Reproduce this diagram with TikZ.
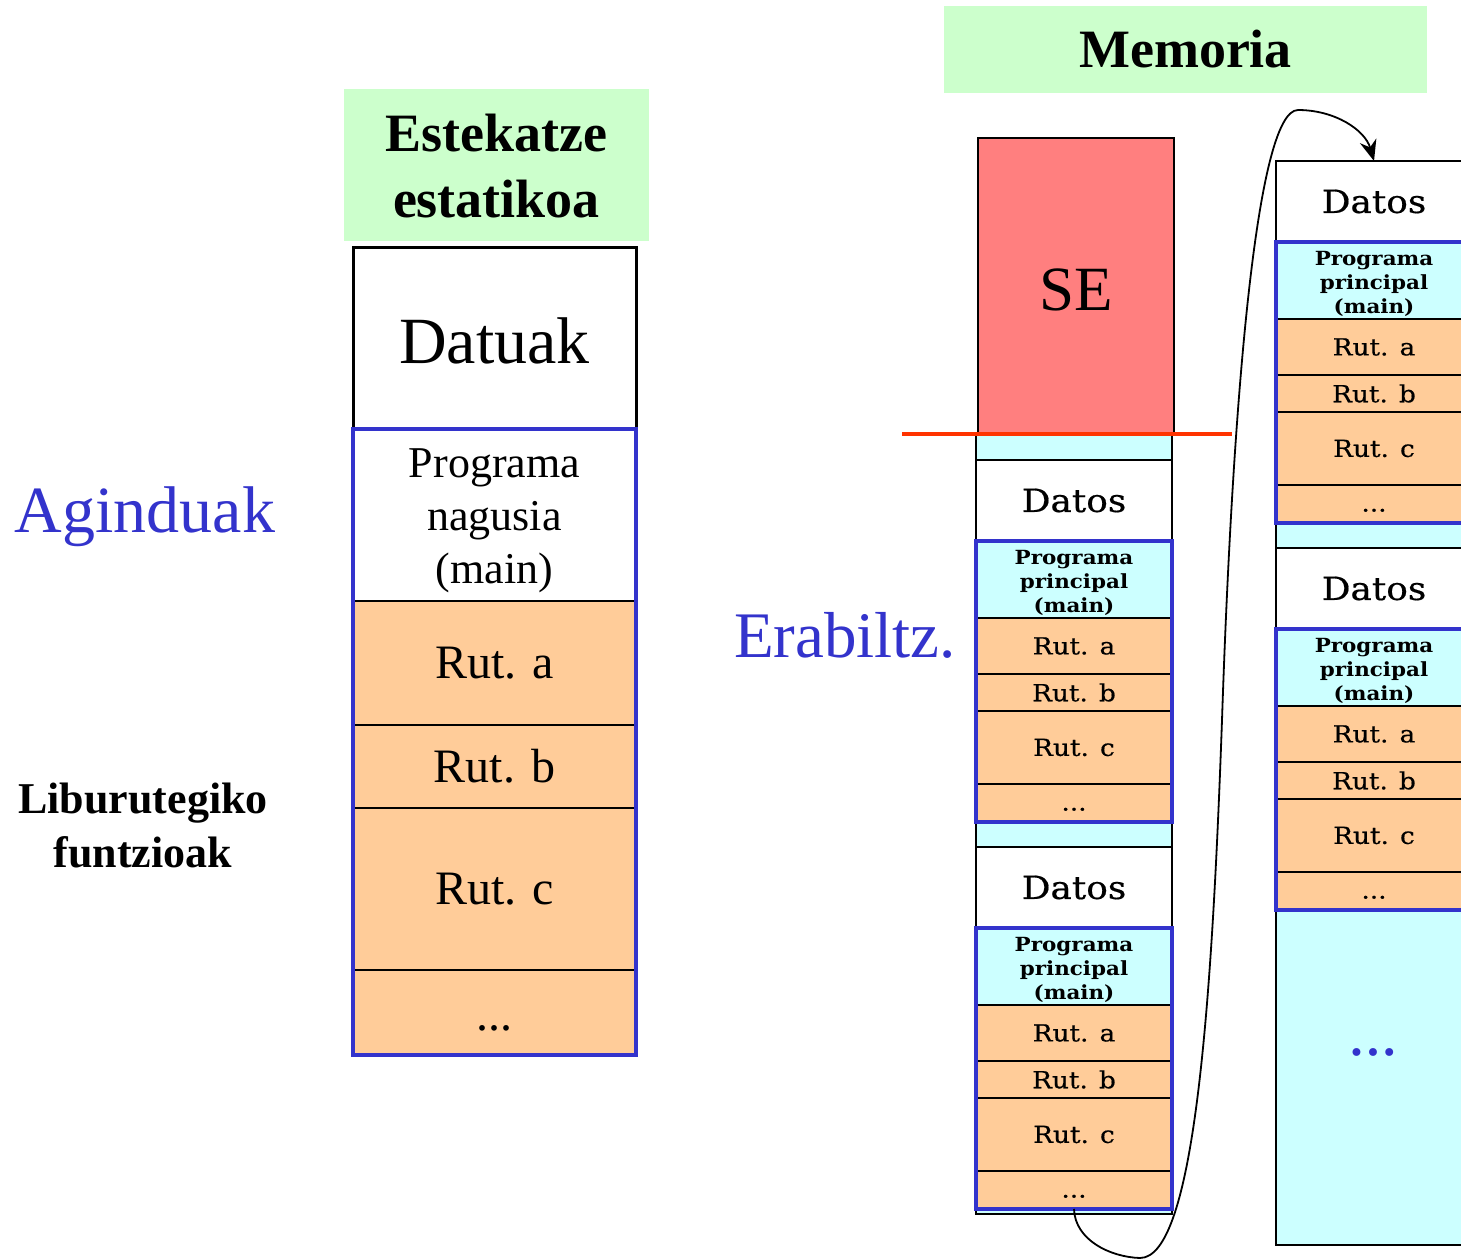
\documentclass[tikz,border=0pt]{standalone}
\usepackage{fontspec}
\setmainfont{Liberation Serif}
\newfontfamily\cent[FakeStretch=1.12, FakeBold=0.5]{DejaVu Serif}
\newfontfamily\centb[FakeStretch=1.1]{DejaVu Serif}
\newfontfamily\symf{DejaVu Sans}
\usetikzlibrary{arrows.meta}

\definecolor{hdrgreen}{HTML}{CCFFCC}
\definecolor{rutorange}{HTML}{FFCC99}
\definecolor{memcyan}{HTML}{CCFFFF}
\definecolor{progblue}{HTML}{3333CC}
\definecolor{osred}{HTML}{FF7F7F}
\definecolor{limitred}{HTML}{FF3300}

\tikzset{
  every node/.style={inner sep=0pt, outer sep=0pt},
  hdr/.style={fill=hdrgreen, align=center, font=\bfseries\fontsize{54}{66}\selectfont},
  lcell/.style={draw=black, line width=2pt, minimum width=283pt, fill=rutorange,
                font=\fontsize{48}{58}\selectfont},
  rcell/.style={draw=black, line width=1.5pt, minimum width=196pt, fill=rutorange,
                font=\cent\fontsize{23.5}{27}\selectfont},
  rdat/.style={rcell, fill=white, line width=2.5pt, font=\cent\fontsize{32}{36}\selectfont},
  rpp/.style={rcell, fill=memcyan, align=center, font=\centb\bfseries\fontsize{19.5}{24}\selectfont},
  progframe/.style={draw=progblue, line width=4.5pt},
  memcol/.style={fill=memcyan, draw=black, line width=2pt},
  jump/.style={draw=black, line width=1.8pt, -{Stealth[length=21pt,width=17pt]}},
}

% one loaded program image in memory: data, main program and library routines
\newcommand\memblock[3]{%
  \node[rdat, minimum height=81pt] (#1-d) at (#2,#3+40.5) {Datos};
  \node[rpp, minimum height=77pt] (#1-p) at (#2,#3+119.5) {\rule{0pt}{1.05em}Programa\\principal\\(main)};
  \node[rcell, minimum height=56pt] (#1-a) at (#2,#3+186) {Rut. a};
  \node[rcell, minimum height=37pt] (#1-b) at (#2,#3+232.5) {Rut. b};
  \node[rcell, minimum height=73pt] (#1-c) at (#2,#3+287.5) {Rut. c};
  \node[rcell, minimum height=38pt, text height=15pt, text depth=0pt] (#1-e) at (#2,#3+343) {...};
  \draw[progframe] (#1-p.north west) rectangle (#1-e.south east);
}

\begin{document}
\begin{tikzpicture}[x=1pt,y=-1pt]
\useasboundingbox (0,0) rectangle (1461,1258);

% titles
\node[hdr, minimum width=305pt, minimum height=152pt] (static) at (496.5,165) {\rule{0pt}{0.72em}Estekatze\\estatikoa};
\node[hdr, minimum width=483pt, minimum height=87pt] (memoria) at (1185.5,49.5) {Memoria};

% statically linked executable
\node[lcell, fill=white, line width=3pt, minimum height=182pt, text height=50pt, text depth=0pt,
      font=\fontsize{66}{66}\selectfont] (datuak) at (494.5,338) {Datuak};
\node[lcell, fill=white, minimum height=172pt, align=center, font=\fontsize{44}{53}\selectfont]
      (nagusia) at (494.5,515) {\rule{0pt}{0.93em}Programa\\nagusia\\(main)};
\node[lcell, minimum height=124pt] (la) at (494.5,663) {Rut. a};
\node[lcell, minimum height=83pt] (lb) at (494.5,766.5) {Rut. b};
\node[lcell, minimum height=162pt] (lc) at (494.5,889) {Rut. c};
\node[lcell, minimum height=85pt, text height=36pt, text depth=0pt] (le) at (494.5,1012.5) {...};
\draw[progframe] (nagusia.north west) rectangle (le.south east);

% side labels
\node[anchor=base, text=progblue, font=\fontsize{66}{66}\selectfont] (aginduak) at (145,532) {Aginduak};
\node[align=center, font=\bfseries\fontsize{44}{54}\selectfont] (liburu) at (143,825) {Liburutegiko\\funtzioak};
\node[anchor=base, text=progblue, font=\fontsize{65}{65}\selectfont] (erabiltz) at (845,657) {Erabiltz.};

% operating system area
\node[draw=black, line width=1.5pt, fill=osred, minimum width=196pt, minimum height=296pt,
      text height=48pt, text depth=0pt, font=\fontsize{63}{63}\selectfont] (se) at (1076,286) {SE};

% user memory columns
\draw[memcol] (976,434) rectangle (1172,1214);
\draw[memcol] (1276,161) rectangle (1472,1245);
\memblock{c1a}{1074}{460}
\memblock{c1b}{1074}{847}
\memblock{c2a}{1374}{161}
\memblock{c2b}{1374}{548}
\node[text=progblue, font=\symf\fontsize{27}{27}\selectfont] (more) at (1373,1056) {•\hspace{0.5pt}•\hspace{0.5pt}•};

% boundary between system and user memory
\draw[limitred, line width=4.5pt] (902,434) -- (1232,434);

% memory continues in the next column
\draw[jump] (c1b-e.south) .. controls (1075,1240) and (1110,1257) .. (1140,1258)
  .. controls (1195,1258) and (1212,1000) .. (1222,720)
  .. controls (1232,420) and (1255,110) .. (1298,110)
  .. controls (1335,110) and (1365,130) .. (c2a-d.north);
\end{tikzpicture}
\end{document}
